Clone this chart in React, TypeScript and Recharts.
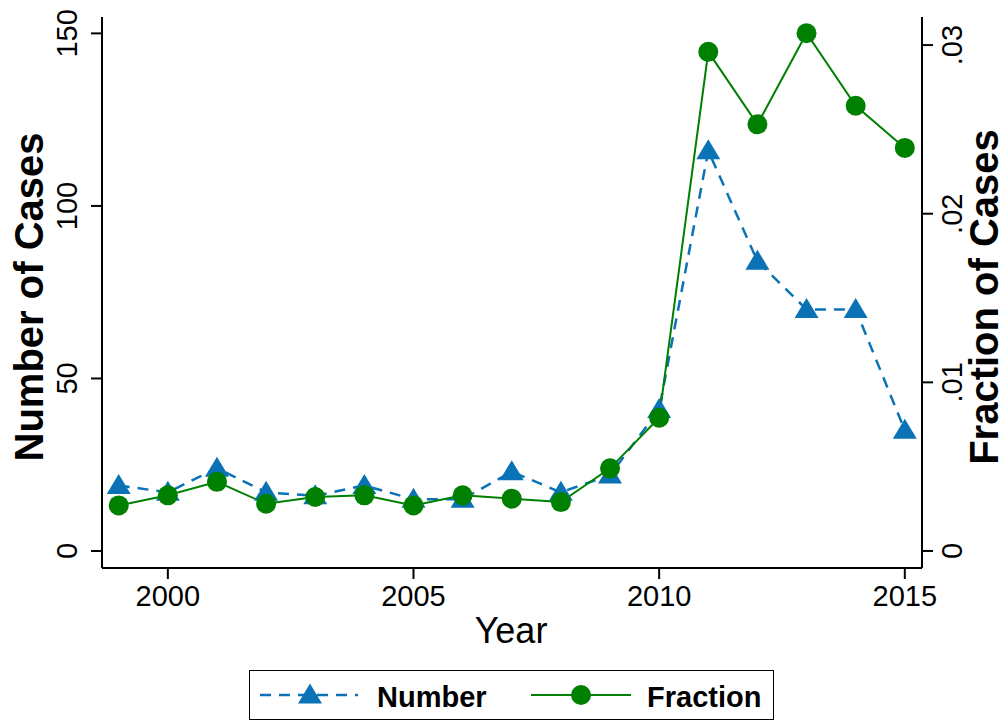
import React from "react";
import { ComposedChart, Line, XAxis, YAxis } from "recharts";

const years = [1999, 2000, 2001, 2002, 2003, 2004, 2005, 2006, 2007, 2008, 2009, 2010, 2011, 2012, 2013, 2014, 2015];
const numberCases = [19, 17, 24, 17, 16, 19, 15, 15, 23, 17, 22, 41, 116, 84, 70, 70, 35];
const fractionCases = [
  0.0027, 0.0033, 0.0041, 0.0028, 0.0032, 0.0033, 0.0027, 0.0033, 0.0031, 0.0029, 0.0049, 0.0079, 0.0296,
  0.0253, 0.0307, 0.0264, 0.0239,
];
const xTicks = [2000, 2005, 2010, 2015];
const leftTicks = [0, 50, 100, 150];
const rightTicks = [0, 0.01, 0.02, 0.03];
const rightLabels = ["0", ".01", ".02", ".03"];

const BLUE = "#0b72b5";
const GREEN = "#008000";
const FONT = "'Liberation Sans', Arial, Helvetica, sans-serif";

const data = years.map((y, i) => ({ year: y, number: numberCases[i], fraction: fractionCases[i] }));

function Triangle(p: any) {
  const { cx, cy } = p;
  if (cx == null || cy == null) return null;
  return <path d={`M${cx},${cy - 11.5} L${cx + 12},${cy + 8.5} L${cx - 12},${cy + 8.5} Z`} fill={BLUE} />;
}

function Circle(p: any) {
  const { cx, cy } = p;
  if (cx == null || cy == null) return null;
  return <circle cx={cx} cy={cy} r={10} fill={GREEN} />;
}

function LeftTick({ x, y, payload }: any) {
  return (
    <text x={x} y={y} transform={`rotate(-90 ${x} ${y})`} textAnchor="middle" fontSize={29} fill="#000" fontFamily={FONT}>
      {payload.value}
    </text>
  );
}

function RightTick({ x, y, payload }: any) {
  const idx = rightTicks.findIndex((t) => Math.abs(t - payload.value) < 1e-9);
  return (
    <text x={x} y={y} transform={`rotate(-90 ${x} ${y})`} textAnchor="middle" fontSize={29} fill="#000" fontFamily={FONT}>
      {idx >= 0 ? rightLabels[idx] : payload.value}
    </text>
  );
}

function Legend() {
  return (
    <div
      style={{
        position: "absolute",
        left: 249,
        top: 670,
        width: 525,
        height: 50,
        border: "1.5px solid #000",
        boxSizing: "border-box",
      }}
    >
      <svg width={525} height={50} style={{ display: "block" }}>
        <line x1={10} y1={24} x2={108} y2={24} stroke={BLUE} strokeWidth={2.5} strokeDasharray="11 8" />
        <Triangle cx={60} cy={24} />
        <text x={127} y={36} fontSize={29} fontWeight="bold" fontFamily={FONT}>
          Number
        </text>
        <line x1={281} y1={24} x2={381} y2={24} stroke={GREEN} strokeWidth={2} />
        <Circle cx={331} cy={24} />
        <text x={397} y={36} fontSize={29} fontWeight="bold" fontFamily={FONT}>
          Fraction
        </text>
      </svg>
    </div>
  );
}

export default function App() {
  return (
    <div style={{ position: "relative", width: 1005, height: 721, background: "#fff", fontFamily: FONT }}>
      <style>{"body{margin:0}"}</style>
      <ComposedChart width={1005} height={721} data={data} margin={{ top: 17, right: 0, bottom: 93, left: 0 }}>
        <XAxis
          dataKey="year"
          type="number"
          domain={[1998.66, 2015.35]}
          ticks={xTicks}
          allowDataOverflow
          height={60}
          tickSize={11}
          tickMargin={6}
          stroke="#000"
          strokeWidth={2}
          tick={{ fontSize: 29, fill: "#000", fontFamily: FONT }}
        />
        <YAxis
          yAxisId="left"
          orientation="left"
          width={102}
          domain={[-4.92, 154.75]}
          ticks={leftTicks}
          allowDataOverflow
          tickSize={11}
          tickMargin={14}
          stroke="#000"
          strokeWidth={2}
          tick={<LeftTick />}
        />
        <YAxis
          yAxisId="right"
          orientation="right"
          width={83}
          domain={[-0.00101, 0.031665]}
          ticks={rightTicks}
          allowDataOverflow
          tickSize={11}
          tickMargin={29}
          stroke="#000"
          strokeWidth={2}
          tick={<RightTick />}
        />
        <Line
          yAxisId="left"
          dataKey="number"
          type="linear"
          stroke={BLUE}
          strokeWidth={2.5}
          strokeDasharray="11 8"
          dot={<Triangle />}
          activeDot={false}
          isAnimationActive={false}
        />
        <Line
          yAxisId="right"
          dataKey="fraction"
          type="linear"
          stroke={GREEN}
          strokeWidth={2}
          dot={<Circle />}
          activeDot={false}
          isAnimationActive={false}
        />
        <text
          x={43}
          y={297}
          transform="rotate(-90 43 297)"
          textAnchor="middle"
          fontSize={40}
          fontWeight="bold"
          fontFamily={FONT}
        >
          Number of Cases
        </text>
        <text
          x={998}
          y={297}
          transform="rotate(-90 998 297)"
          textAnchor="middle"
          fontSize={40}
          fontWeight="bold"
          fontFamily={FONT}
        >
          Fraction of Cases
        </text>
        <text x={511} y={643} textAnchor="middle" fontSize={36} fontFamily={FONT}>
          Year
        </text>
      </ComposedChart>
      <Legend />
    </div>
  );
}
